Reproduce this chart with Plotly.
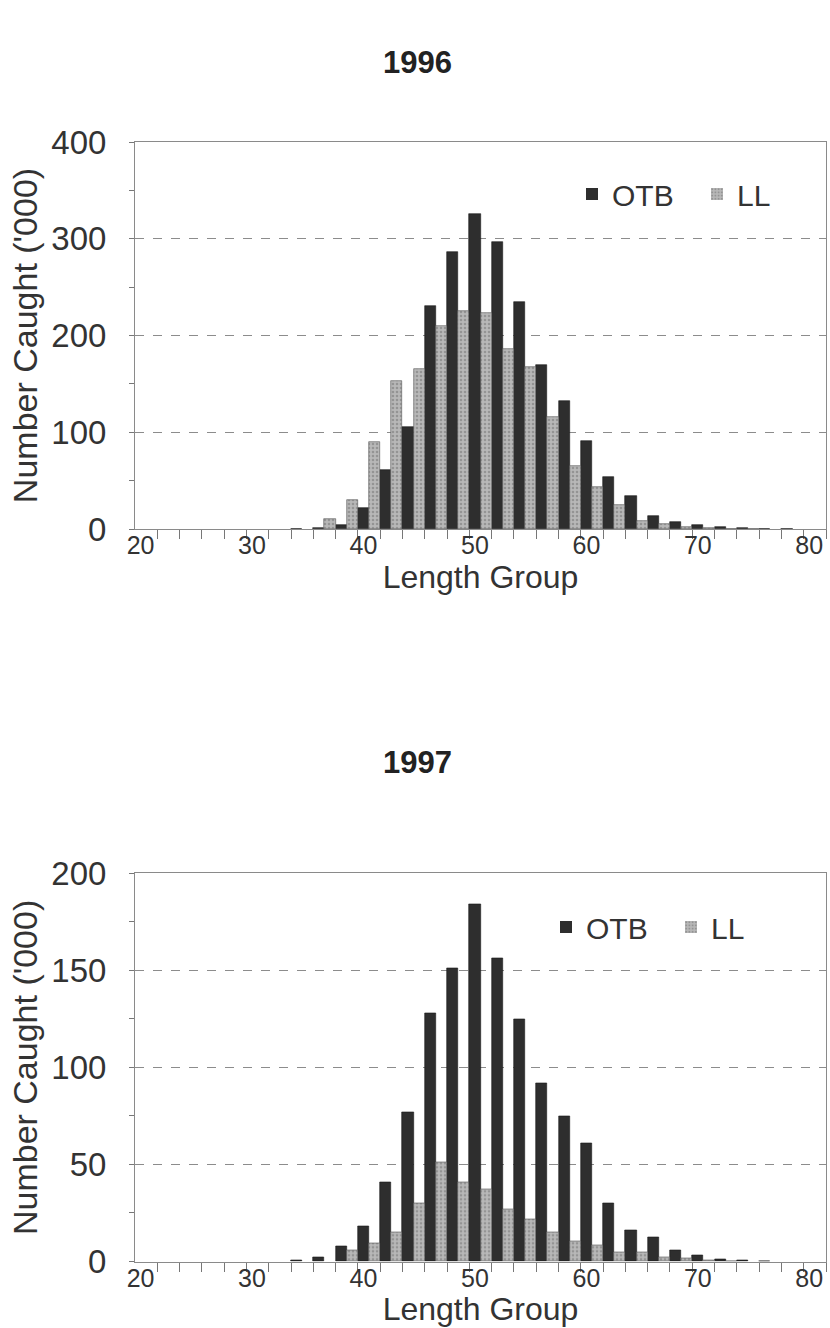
import numpy as np
import plotly.graph_objects as go

# ---------------- data ----------------
len_otb = list(range(20, 81, 2))   # OTB length groups (even)
len_ll = list(range(21, 82, 2))    # LL length groups (odd)

otb_1996 = [0, 0, 0, 0, 0, 0, 0, 0.5, 1, 4, 22, 61, 105, 231, 286, 326,
            297, 235, 170, 132, 91, 54, 34, 13, 7, 4, 2, 1, 0.5, 0.3, 0]
ll_1996 = [0, 0, 0, 0, 0, 0, 0, 0, 10, 30, 90, 153, 165, 210, 225, 223,
           186, 167, 116, 65, 43, 25, 8, 5, 2, 1, 0.5, 0.3, 0, 0, 0]

otb_1997 = [0, 0, 0, 0, 0, 0, 0, 0.5, 2, 8, 18, 41, 77, 128, 151, 184,
            156, 125, 92, 75, 61, 30, 16, 12.5, 6, 3, 1.2, 0.5, 0.3, 0, 0]
ll_1997 = [0, 0, 0, 0, 0, 0, 0, 0, 0, 6, 9.5, 15, 30, 51, 41, 37,
           27, 22, 15, 10.5, 8.5, 5, 5, 2.3, 1.5, 0.5, 0.3, 0, 0, 0, 0]

x_ticks = [20, 30, 40, 50, 60, 70, 80]
minor_x = list(np.arange(21.5, 82, 2))

OTB_COL = "#2e2e2e"
LL_COL = "#ababab"
FONT = "Liberation Sans, Arial, sans-serif"
TXT = "#333333"

fig = go.Figure()

def lw(vals, w):
    return [w if v > 0 else 0 for v in vals]

def add_year(otb, ll, xa, ya, leg):
    fig.add_trace(go.Bar(x=len_otb, y=otb, name="OTB", width=1.0,
                         marker=dict(color=OTB_COL, line=dict(color="#1a1a1a", width=lw(otb, 0.6))),
                         xaxis=xa, yaxis=ya, legend=leg))
    fig.add_trace(go.Bar(x=len_ll, y=ll, name="LL", width=1.0,
                         marker=dict(color=LL_COL, line=dict(color="#555555", width=lw(ll, 0.6)),
                                     pattern=dict(shape=".", fgcolor="#707070", bgcolor="#b8b8b8",
                                                  size=4, solidity=0.35)),
                         xaxis=xa, yaxis=ya, legend=leg))

add_year(otb_1996, ll_1996, "x", "y", "legend")
add_year(otb_1997, ll_1997, "x2", "y2", "legend2")

W, H = 830, 1328
L, R = 135, 4
PW = W - L - R

def px_x(p):
    return (p - L) / PW

def px_y(p):
    return (H - p) / H

def xaxis_cfg(anchor):
    return dict(
        domain=[0, 1], anchor=anchor, range=[19.5, 81.5],
        tickmode="array", tickvals=x_ticks, ticks="", ticklen=0,
        minor=dict(tickmode="array", tickvals=minor_x, ticks="outside",
                   ticklen=9, tickcolor="#777777", tickwidth=1),
        showline=True, linecolor="#8a8a8a", linewidth=1, mirror=True,
        showgrid=False, zeroline=False, automargin=False,
        tickfont=dict(size=25, color=TXT, family=FONT),
        ticklabelstandoff=-6,
        title=dict(text="Length Group", font=dict(size=32, color=TXT, family=FONT), standoff=3),
    )

def xin_cfg(over, anchor):
    return dict(
        overlaying=over, anchor=anchor, range=[19.5, 81.5],
        tickmode="array", tickvals=minor_x, ticks="inside", ticklen=9,
        tickcolor="#777777", showticklabels=False, showline=False,
        showgrid=False, zeroline=False, layer="below traces", automargin=False,
    )

def yaxis_cfg(dom, rng, dt, anchor):
    return dict(
        domain=dom, anchor=anchor, range=rng, dtick=dt, tick0=0,
        ticks="outside", ticklen=5, tickcolor="#777777",
        minor=dict(dtick=dt / 2, ticks="outside", ticklen=5, tickcolor="#777777"),
        showline=True, linecolor="#8a8a8a", linewidth=1, mirror=True,
        showgrid=True, gridcolor="#8c8c8c", griddash="dash", gridwidth=1,
        zeroline=False, automargin=False,
        tickfont=dict(size=33, color=TXT, family=FONT),
        ticklabelstandoff=16,
        title=dict(text="Number Caught ('000)", font=dict(size=34, color=TXT, family=FONT), standoff=3),
    )

leg_common = dict(orientation="h", xanchor="left", yanchor="middle",
                  font=dict(size=30, color=TXT, family=FONT), bgcolor="rgba(0,0,0,0)",
                  itemclick=False, traceorder="normal", entrywidth=80)

fig.update_layout(
    width=W, height=H,
    margin=dict(l=L, r=R, t=0, b=0),
    paper_bgcolor="white", plot_bgcolor="white",
    barmode="overlay", bargap=0,
    font=dict(family=FONT, color=TXT),
    xaxis=xaxis_cfg("y"),
    xaxis2=xaxis_cfg("y2"),
    xaxis3=xin_cfg("x", "y"),
    xaxis4=xin_cfg("x2", "y2"),
    yaxis=yaxis_cfg([px_y(529), px_y(142)], [0, 400], 100, "x"),
    yaxis2=yaxis_cfg([px_y(1261.5), px_y(873.3)], [0, 200], 50, "x2"),
    legend=dict(x=px_x(572), y=px_y(194), **leg_common),
    legend2=dict(x=px_x(546), y=px_y(927), **leg_common),
    annotations=[
        dict(text="1996", x=px_x(417), y=px_y(62), xref="paper", yref="paper",
             showarrow=False, xanchor="center", yanchor="middle",
             font=dict(size=31, color="#222222", family=FONT, weight="bold")),
        dict(text="1997", x=px_x(417), y=px_y(762), xref="paper", yref="paper",
             showarrow=False, xanchor="center", yanchor="middle",
             font=dict(size=31, color="#222222", family=FONT, weight="bold")),
    ],
)

fig.write_html("out.html")
